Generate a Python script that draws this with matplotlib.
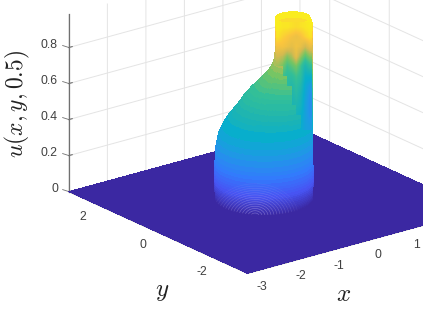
import numpy as np
import matplotlib
matplotlib.use('Agg')
import matplotlib.pyplot as plt
from matplotlib.colors import LinearSegmentedColormap
from matplotlib.path import Path
from matplotlib.patches import PathPatch
from mpl_toolkits.mplot3d import proj3d

# axes ticks
x_ticks = [-3, -2, -1, 0, 1, 2, 3]
y_ticks = [-2, 0, 2]
z_ticks = [0, 0.2, 0.4, 0.6, 0.8]
x_labels = ['-3', '-2', '-1', '0', '1']
y_labels = ['-2', '0', '2']
z_labels = ['0', '0.2', '0.4', '0.6', '0.8']

# parula colours
parula = ['#3b28a2', '#4755f4', '#327bfc', '#1f99e5', '#08aecc', '#1fb5b0',
          '#33bf98', '#74c564', '#d4ba50', '#fcc63d', '#f9fb15']

# plume rings: height, radius, shift of the centre to the screen right
base_cx, base_cy = -0.059, 0.251
ring_z = [0.0, 0.006, 0.012, 0.018, 0.025, 0.032, 0.04, 0.05, 0.06, 0.07, 0.08, 0.09, 0.10,
          0.115, 0.13, 0.145, 0.16, 0.18, 0.20, 0.22, 0.24, 0.267, 0.30, 0.33, 0.36, 0.40,
          0.45, 0.475, 0.50, 0.53, 0.555, 0.58, 0.60, 0.625, 0.65, 0.675, 0.70, 0.728,
          0.755, 0.785, 0.82, 0.86, 0.90, 0.94, 0.97, 1.0]
ring_r = [1.002, 1.002, 1.002, 1.002, 1.002, 1.002, 1.003, 1.003, 1.003, 1.004, 1.004, 1.004, 1.005,
          1.005, 1.005, 1.005, 1.005, 1.004, 1.003, 1.001, 0.998, 0.995, 0.985, 0.975, 0.96, 0.925,
          0.865, 0.825, 0.785, 0.745, 0.714, 0.673, 0.642, 0.591, 0.55, 0.503, 0.457, 0.419,
          0.40, 0.385, 0.382, 0.38, 0.38, 0.38, 0.375, 0.35]
ring_s = [0.0, 0.0, 0.0, 0.0, 0.0, 0.0, 0.0, 0.0, 0.0, 0.0, 0.0, 0.0, 0.0,
          0.0, 0.0, 0.0, 0.0, 0.0, 0.0, 0.0, 0.0, 0.0, 0.01, 0.022, 0.036, 0.072,
          0.132, 0.172, 0.21, 0.252, 0.283, 0.324, 0.354, 0.406, 0.447, 0.493, 0.54, 0.577,
          0.596, 0.612, 0.615, 0.615, 0.615, 0.615, 0.61, 0.596]

# streaky colour values on the upper column, seen through the mesh
column_u = [
    [0.97, 0.96, 0.96, 0.95, 0.94, 0.95, 0.96, 0.97],
    [0.95, 0.92, 0.90, 0.88, 0.86, 0.88, 0.92, 0.95],
    [0.88, 0.88, 0.86, 0.84, 0.87, 0.85, 0.80, 0.85],
    [0.80, 0.78, 0.72, 0.76, 0.84, 0.74, 0.66, 0.72],
    [0.74, 0.70, 0.62, 0.66, 0.70, 0.62, 0.50, 0.58],
    [np.nan, 0.62, 0.58, 0.58, 0.62, 0.58, 0.42, 0.42],
    [np.nan, np.nan, 0.56, 0.52, 0.58, 0.52, 0.38, 0.32],
    [np.nan, np.nan, np.nan, 0.50, 0.54, 0.48, 0.36, 0.28],
    [np.nan, np.nan, np.nan, 0.48, 0.50, 0.46, 0.34, 0.27],
    [np.nan, np.nan, np.nan, np.nan, 0.46, 0.42, 0.34, 0.28],
    [np.nan, np.nan, np.nan, np.nan, np.nan, 0.40, 0.34, 0.32],
]

# pale arches on the low front of the plume
arch_size = [4, 7, 10, 13, 16, 19, 22, 25, 28, 31, 34, 37, 40, 43]
arch_alpha = [0.42, 0.45, 0.45, 0.42, 0.4, 0.36, 0.32, 0.3, 0.27, 0.24, 0.2, 0.17, 0.13, 0.1]

plt.rcParams['font.family'] = ['Liberation Sans', 'DejaVu Sans']
plt.rcParams['mathtext.fontset'] = 'cm'

W, H = 423, 317
cmap = LinearSegmentedColormap.from_list('parula', parula)

fig = plt.figure(figsize=(W / 100, H / 100), dpi=100)
side = 441.3
ax = fig.add_axes([47.1 / W, -21.7 / H, side / W, side / H], projection='3d', computed_zorder=False)
ax.set_proj_type('ortho')
ax.view_init(elev=20.7, azim=-127.7)
ax.set_box_aspect((6, 6, 3.90))
ax.set_xlim(-3, 3, view_margin=0)
ax.set_ylim(-3, 3, view_margin=0)
ax.set_zlim(0, 0.986, view_margin=0)


def tick_text(x, y, z, label, ha='center'):
    # plain text at the projected spot of a 3d point
    px, py, _ = proj3d.proj_transform(x, y, z, ax.get_proj())
    ax.text2D(px, py, label, transform=ax.transData, fontsize=8.8, color='#404040', ha=ha, va='center')


# floor
floor_x, floor_y = np.meshgrid([-3, 3], [-3, 3])
ax.plot_surface(floor_x, floor_y, np.zeros_like(floor_x, dtype=float), color=cmap(0.0),
                shade=False, linewidth=0, antialiased=False, zorder=1)

# plume
theta = np.radians(np.arange(0, 361, 5))
z = np.array(ring_z)
r = np.array(ring_r)[:, None]
s = np.array(ring_s)[:, None]
X = base_cx + s * 0.791 + r * np.cos(theta)
Y = base_cy - s * 0.611 + r * np.sin(theta)
Z = np.repeat(z[:, None], len(theta), axis=1)
ax.plot_surface(X, Y, Z, facecolors=cmap(Z), rstride=1, cstride=1, shade=False,
                linewidth=0.3, antialiased=False, zorder=2)

# axes style
ax.set_xticks(x_ticks)
ax.set_yticks(y_ticks)
ax.set_zticks(z_ticks)
for axis in (ax.xaxis, ax.yaxis, ax.zaxis):
    axis.set_pane_color((1, 1, 1, 1))
    axis.pane.set_edgecolor('white')
    axis.line.set_color('#707070')
    axis.line.set_linewidth(0.8)
    axis._axinfo['grid'].update(color='#e4e4e4', linewidth=0.7)
    axis._axinfo['tick'].update(inward_factor=0.0, outward_factor=0.18)
    for tick in axis.get_major_ticks():
        tick.label1.set_visible(False)
        tick.label2.set_visible(False)
ax.tick_params(axis='both', color='#707070', width=0.6, labelbottom=False, labelleft=False)
ax.zaxis.line.set_visible(False)

# z axis on the left corner
ax.plot([-3, -3], [3, 3], [0, 0.986], color='#707070', lw=0.9, zorder=0.5)
for t, lab in zip(z_ticks, z_labels):
    ax.plot([-3, -3.03], [3, 3.17], [t, t], color='#707070', lw=0.6, zorder=0.5)
    tick_text(-3.09, 3.25, t, lab, ha='right')
for t, lab in zip(x_ticks, x_labels):
    tick_text(t - 0.242, -3.80, 0, lab)
for t, lab in zip(y_ticks, y_labels):
    tick_text(-3.68, t - 0.36, 0, lab)

# overlay in picture pixels for the streaks and the arches
over = fig.add_axes([0, 0, 1, 1])
over.patch.set_alpha(0)
over.axis('off')
over.imshow(np.ma.masked_invalid(column_u), cmap=cmap, vmin=0, vmax=1, aspect='auto',
            extent=(276, 312, 130, 22), interpolation='bilinear')
arch_t = np.radians(np.arange(0, 181, 6))
clip_verts = [(215, 165)] + [(264 - 49 * np.cos(a), 198 + 17 * np.sin(a)) for a in arch_t] + [(313, 165), (215, 165)]
clip = PathPatch(Path(clip_verts), transform=over.transData, fc='none', ec='none')
over.add_patch(clip)
for a_s, a_a in zip(arch_size, arch_alpha):
    arch, = over.plot(255 + a_s * np.cos(arch_t), 216 - 0.75 * a_s * np.sin(arch_t),
                      color='#c4b4ee', lw=0.45, alpha=a_a)
    arch.set_clip_path(clip)
over.set_xlim(0, W)
over.set_ylim(H, 0)

fig.text(17 / W, 1 - 104 / H, r'$u(x,y,0.5)$', rotation=90, fontsize=17, ha='center', va='center', color='#222222')
fig.text(344 / W, 1 - 294 / H, r'$x$', fontsize=18, ha='center', va='center', color='#222222')
fig.text(162 / W, 1 - 291 / H, r'$y$', fontsize=18, ha='center', va='center', color='#222222')

fig.savefig('out.png', dpi=100, facecolor='white')
